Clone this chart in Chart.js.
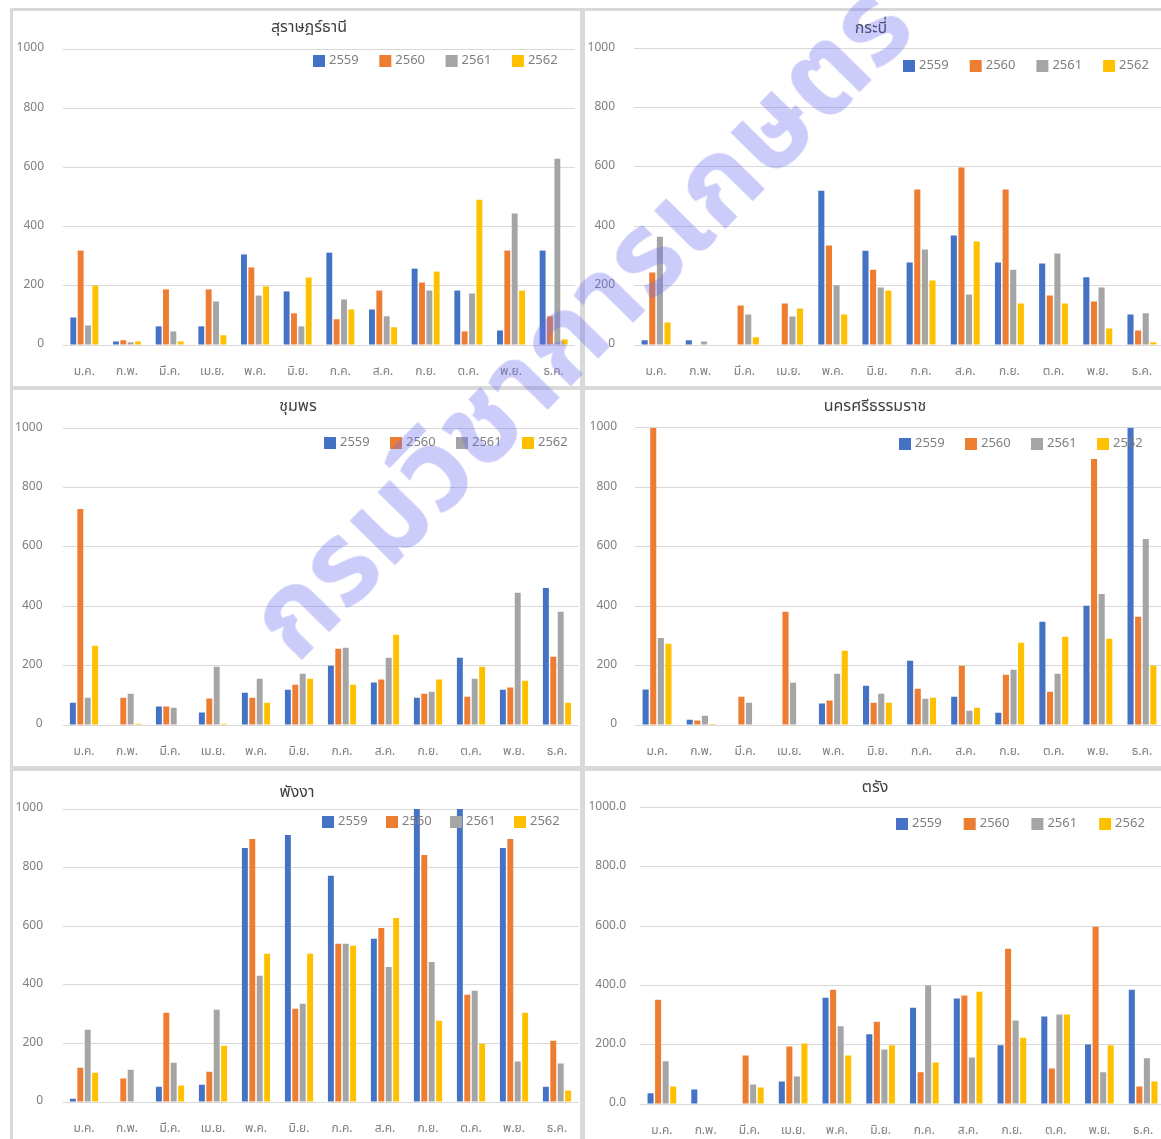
<!DOCTYPE html>
<html lang="th">
<head>
<meta charset="utf-8">
<script src="https://cdn.jsdelivr.net/npm/chart.js@4.4.1/dist/chart.umd.min.js"></script>
<style>
  html, body { margin: 0; padding: 0; background: #fff; }
  body { width: 1161px; height: 1139px; position: relative; overflow: hidden;
         font-family: 'Noto Sans Thai', 'Noto Sans Thai UI', Tahoma, 'Noto Sans', sans-serif; }
  .line { position: absolute; background: #d9d9d9; }
  .panel { position: absolute; overflow: hidden; background: #fff; }
  .panel canvas { position: absolute; }
  #mark { position: absolute; left: 583px; top: 324px; transform: translate(-50%, -50%) rotate(-45.5deg);
          font-size: 115px; font-weight: bold; color: rgba(110, 110, 240, 0.35);
          white-space: nowrap; pointer-events: none; }
</style>
</head>
<body>
<div class="line" style="left:10px;top:8px;width:1151px;height:3px"></div>
<div class="line" style="left:10px;top:8px;width:3px;height:1131px"></div>
<div class="line" style="left:580px;top:8px;width:5px;height:1131px"></div>
<div class="line" style="left:10px;top:386px;width:1151px;height:4px"></div>
<div class="line" style="left:10px;top:766px;width:1151px;height:5px"></div>
<div id="panels"></div>
<div id="mark">กรมวิชาการเกษตร</div>
<script>
const months = ['ม.ค.', 'ก.พ.', 'มี.ค.', 'เม.ย.', 'พ.ค.', 'มิ.ย.', 'ก.ค.', 'ส.ค.', 'ก.ย.', 'ต.ค.', 'พ.ย.', 'ธ.ค.'];
const years = ['2559', '2560', '2561', '2562'];
const yTicks = [0, 200, 400, 600, 800, 1000];
const provinces = ['สุราษฎร์ธานี', 'กระบี่', 'ชุมพร', 'นครศรีธรรมราช', 'พังงา', 'ตรัง'];

// rows: 2559, 2560, 2561, 2562
const suratThani = [
  [93, 12, 63, 63, 306, 181, 312, 120, 258, 184, 49, 319],
  [319, 16, 188, 188, 262, 107, 87, 184, 211, 46, 319, 97],
  [66, 9, 46, 147, 167, 63, 154, 97, 184, 174, 444, 629],
  [201, 12, 12, 33, 198, 228, 120, 60, 248, 491, 184, 19]
];
const krabi = [
  [16, 16, 0, 0, 520, 318, 278, 369, 278, 275, 228, 103],
  [244, 0, 133, 140, 335, 254, 524, 598, 524, 167, 147, 49],
  [365, 12, 103, 96, 201, 194, 322, 170, 254, 308, 194, 107],
  [76, 0, 26, 123, 103, 184, 217, 349, 140, 140, 56, 9]
];
const chumphon = [
  [75, 0, 62, 42, 109, 119, 200, 143, 92, 227, 119, 462],
  [728, 92, 62, 89, 92, 136, 257, 153, 105, 95, 126, 230],
  [92, 105, 58, 196, 156, 173, 260, 227, 112, 156, 446, 382],
  [267, 4, 0, 4, 75, 156, 136, 304, 153, 196, 149, 75]
];
const nakhonSi = [
  [119, 18, 0, 0, 72, 132, 216, 95, 41, 347, 401, 1000],
  [1000, 15, 95, 381, 82, 75, 122, 199, 169, 112, 895, 364],
  [293, 31, 75, 142, 172, 105, 88, 48, 186, 172, 441, 626],
  [273, 3, 0, 0, 250, 75, 92, 58, 277, 297, 290, 199]
];
const phangNga = [
  [11, 0, 52, 59, 867, 911, 772, 557, 1000, 1000, 867, 52],
  [117, 80, 305, 103, 898, 318, 540, 594, 843, 366, 898, 209],
  [247, 110, 134, 315, 431, 335, 540, 461, 478, 380, 138, 131],
  [100, 0, 56, 192, 506, 506, 533, 628, 277, 199, 305, 39]
];
const trang = [
  [36, 49, 0, 76, 359, 235, 325, 356, 198, 295, 201, 386],
  [352, 0, 164, 194, 386, 278, 107, 366, 524, 120, 598, 59],
  [144, 0, 66, 93, 262, 184, 400, 157, 282, 302, 107, 154],
  [59, 0, 56, 204, 164, 198, 140, 379, 224, 302, 198, 76]
];
const allValues = [suratThani, krabi, chumphon, nakhonSi, phangNga, trang];

const colors = ['#4472c4', '#ed7d31', '#a5a5a5', '#ffc000'];
const FONT = "'Noto Sans Thai', 'Noto Sans Thai UI', Tahoma, 'Noto Sans', sans-serif";

// page layout of each screenshot panel
const panels = [
  { box: [13, 11, 567, 375], area: [63, 49, 575, 345.5], titleX: 309, titleY: 29, legX: 313, legY: 61, legGap: 66.3, pad: 19, dec: 0 },
  { box: [585, 11, 576, 375], area: [634, 48.3, 1164, 345.7], titleX: 871, titleY: 30, legX: 903, legY: 66, legGap: 66.7, pad: 19, dec: 0 },
  { box: [13, 390, 567, 376], area: [62.5, 428.3, 578.5, 725.3], titleX: 298, titleY: 408, legX: 324, legY: 443, legGap: 66, pad: 20, dec: 0 },
  { box: [585, 390, 576, 376], area: [635, 427.7, 1164, 725.3], titleX: 875, titleY: 408, legX: 899, legY: 444, legGap: 66, pad: 18, dec: 0 },
  { box: [13, 771, 567, 368], area: [62.5, 809, 578.5, 1102.3], titleX: 297, titleY: 794, legX: 322, legY: 822, legGap: 64, pad: 19.5, dec: 0 },
  { box: [585, 771, 576, 368], area: [640, 807.7, 1165, 1104.7], titleX: 875, titleY: 789, legX: 896, legY: 824, legGap: 67.7, pad: 14, dec: 1 }
];

// legend drawn inside the plot area, under the top gridline
const insideLegend = {
  id: 'insideLegend',
  afterDraw(chart, args, opts) {
    const ctx = chart.ctx;
    ctx.save();
    ctx.font = '13px ' + FONT;
    ctx.textBaseline = 'middle';
    chart.data.datasets.forEach((ds, i) => {
      const x = opts.x + i * opts.gap;
      ctx.fillStyle = ds.backgroundColor;
      ctx.fillRect(x, opts.y - 6, 12, 12);
      ctx.fillStyle = '#7f7f7f';
      ctx.fillText(ds.label, x + 16, opts.y);
    });
    ctx.restore();
  }
};

const holder = document.getElementById('panels');

panels.forEach((p, idx) => {
  const [bx, by, bw, bh] = p.box;
  const [aL, aT, aR, aB] = p.area;
  const L = Math.min(bx - 1, 2 * p.titleX - aR - 2);
  const R = 2 * p.titleX - L;
  const C = p.titleY - 20;
  const lh = 16 * 1.2;
  const xAxisH = 40;

  const div = document.createElement('div');
  div.className = 'panel';
  div.style.cssText = `left:${bx}px;top:${by}px;width:${bw}px;height:${bh}px`;
  const canvas = document.createElement('canvas');
  canvas.width = R - L;
  canvas.height = aB + xAxisH - C;
  canvas.style.left = (L - bx) + 'px';
  canvas.style.top = (C - by) + 'px';
  div.appendChild(canvas);
  holder.appendChild(div);

  new Chart(canvas, {
    type: 'bar',
    data: {
      labels: months,
      datasets: years.map((y, i) => ({
        label: y,
        data: allValues[idx][i],
        backgroundColor: colors[i],
        categoryPercentage: 0.69,
        barPercentage: 0.8
      }))
    },
    options: {
      responsive: false,
      animation: false,
      layout: { padding: 0 },
      plugins: {
        legend: { display: false },
        tooltip: { enabled: false },
        title: {
          display: true,
          text: provinces[idx],
          color: '#404040',
          font: { family: FONT, size: 16, weight: 'normal' },
          padding: { top: p.titleY - C - lh / 2, bottom: aT - p.titleY - lh / 2 }
        },
        insideLegend: { x: p.legX - L, y: p.legY - C, gap: p.legGap }
      },
      scales: {
        x: {
          grid: { display: false },
          border: { display: false },
          ticks: { color: '#7f7f7f', font: { family: FONT, size: 12 }, padding: 12, maxRotation: 0, autoSkip: false },
          afterFit: s => { s.height = xAxisH; }
        },
        y: {
          min: 0,
          max: 1000,
          afterBuildTicks: s => { s.ticks = yTicks.map(v => ({ value: v })); },
          grid: { color: '#d9d9d9', lineWidth: 1, drawTicks: false },
          border: { display: false },
          ticks: {
            color: '#7f7f7f',
            font: { family: FONT, size: 12 },
            padding: p.pad,
            callback: v => v.toFixed(p.dec)
          },
          afterFit: s => { s.width = aL - L; }
        },
        // empty right-hand strip so the title stays centred on the whole chart
        spacer: {
          type: 'linear',
          position: 'right',
          grid: { display: false },
          border: { display: false },
          ticks: { display: false },
          afterFit: s => { s.width = R - aR; }
        }
      }
    },
    plugins: [insideLegend]
  });
});
</script>
</body>
</html>
